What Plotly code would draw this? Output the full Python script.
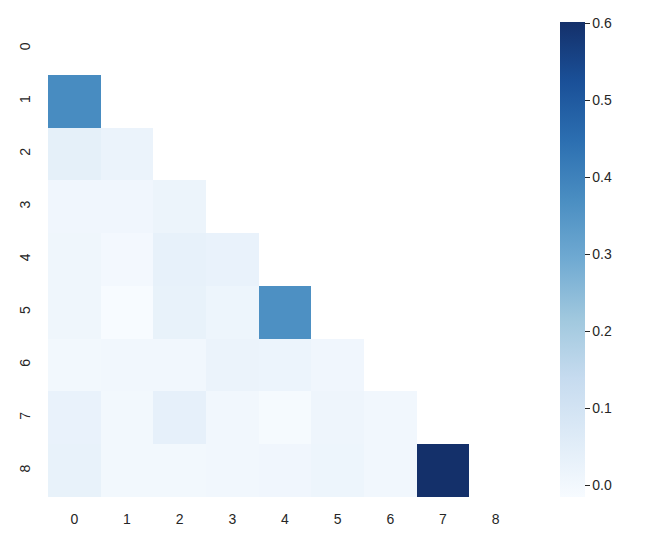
import numpy as np
import plotly.graph_objects as go

labels = [str(i) for i in range(9)]

# lower triangle (below the diagonal) of the matrix
row_1 = [0.375]
row_2 = [0.040, 0.022]
row_3 = [0.008, 0.008, 0.020]
row_4 = [0.010, -0.002, 0.033, 0.028]
row_5 = [0.010, -0.015, 0.030, 0.015, 0.365]
row_6 = [0.000, 0.002, 0.005, 0.022, 0.018, 0.008]
row_7 = [0.028, 0.000, 0.038, 0.002, -0.008, 0.012, 0.005]
row_8 = [0.030, 0.000, 0.000, 0.003, 0.008, 0.015, 0.005, 0.602]

rows = [[], row_1, row_2, row_3, row_4, row_5, row_6, row_7, row_8]

# "Blues" as it shows up in the reference screenshot (darker end a bit muted)
blues = ["#f7fbff", "#deebf7", "#c6dbef", "#a0c8de", "#70aad2",
         "#4a8ec2", "#2c6fb1", "#1a5098", "#14306a"]
colorscale = [[i / 8, c] for i, c in enumerate(blues)]

n = len(labels)
z = [[None] * n for _ in range(n)]
for i, r in enumerate(rows):
    for j, v in enumerate(r):
        z[i][j] = v

vals = [v for r in rows for v in r]
font = dict(family="Liberation Sans, Arial", size=14, color="#262626")

fig = go.Figure(
    go.Heatmap(
        z=z,
        x=list(range(n)),
        y=list(range(n)),
        colorscale=colorscale,
        zmin=min(vals),
        zmax=max(vals),
        hoverongaps=False,
        colorbar=dict(
            x=1.08,
            xanchor="left",
            xpad=0,
            y=0.5,
            len=1.0,
            ypad=0,
            thickness=25,
            outlinewidth=0,
            tickvals=[0.0, 0.1, 0.2, 0.3, 0.4, 0.5, 0.6],
            tickformat=".1f",
            ticks="outside",
            ticklen=5,
            tickwidth=1,
            tickcolor="#262626",
            tickfont=font,
        ),
    )
)

fig.update_xaxes(
    range=[-0.5, n - 0.5],
    tickvals=list(range(n)),
    ticktext=labels,
    showgrid=False,
    zeroline=False,
    ticks="",
    automargin=False,
    ticklabelstandoff=12,
    tickfont=font,
)
fig.update_yaxes(
    range=[n - 0.5, -0.5],
    tickvals=list(range(n)),
    ticktext=labels,
    tickangle=-90,
    showgrid=False,
    zeroline=False,
    ticks="",
    automargin=False,
    ticklabelstandoff=14,
    tickfont=font,
)

# page body has an 8px margin, so the figure is 8px smaller and shifted
fig.update_layout(
    width=656,
    height=544,
    margin=dict(l=40, r=142, t=14, b=55),
    plot_bgcolor="white",
    paper_bgcolor="white",
)

fig.write_html("out.html")
